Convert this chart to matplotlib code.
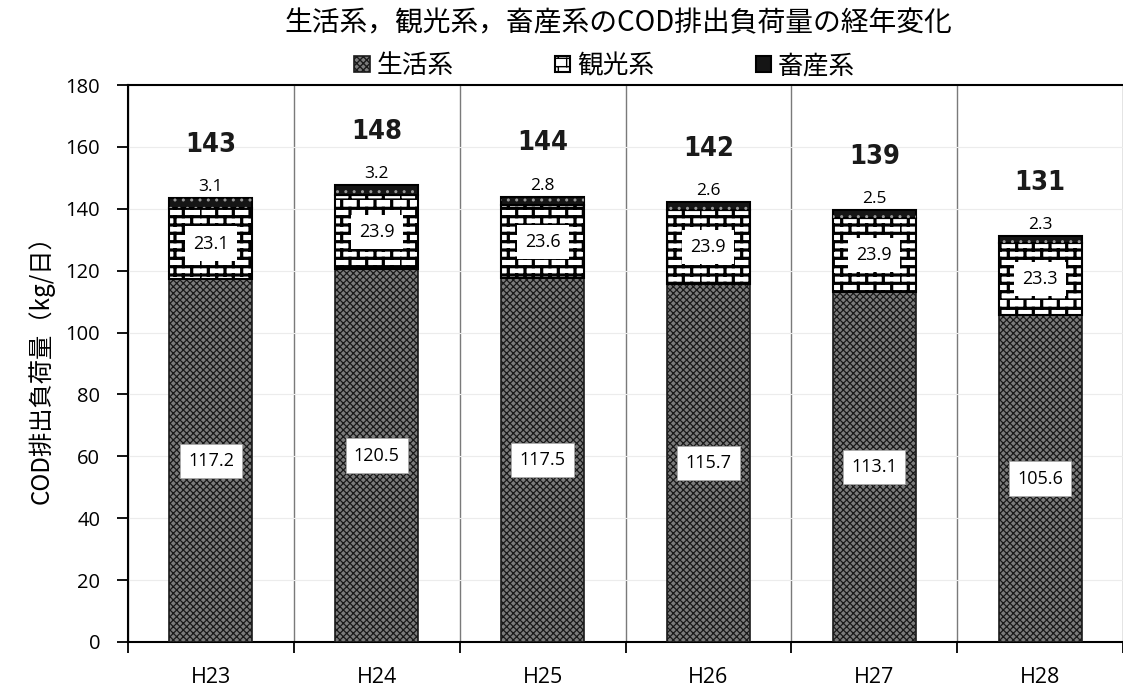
import warnings
import numpy as np
import matplotlib
matplotlib.use("Agg")
import matplotlib.pyplot as plt
import matplotlib.hatch as mhatch
from matplotlib import font_manager as fm
from matplotlib.path import Path

warnings.filterwarnings("ignore", message=".*hatch.*")

# ---- data -----------------------------------------------------------------
years = ["H23", "H24", "H25", "H26", "H27", "H28"]
domestic = [117.2, 120.5, 117.5, 115.7, 113.1, 105.6]   # 生活系
tourism = [23.1, 23.9, 23.6, 23.9, 23.9, 23.3]          # 観光系
livestock = [3.1, 3.2, 2.8, 2.6, 2.5, 2.3]              # 畜産系
totals = [143, 148, 144, 142, 139, 131]
series_names = ["生活系", "観光系", "畜産系"]
yticks = [0, 20, 40, 60, 80, 100, 120, 140, 160, 180]

title = "生活系，観光系，畜産系のCOD排出負荷量の経年変化"
ylabel = "COD排出負荷量（kg/日）"


# ---- brick hatch ('B') ----------------------------------------------------
class BrickHatch(mhatch.HatchPatternBase):
    def __init__(self, hatch, density):
        self.n = int(hatch.count("B") * density)
        n = self.n
        self.num_vertices = (4 * n + 4 * n * n) if n else 0

    def set_vertices_and_codes(self, vertices, codes):
        n = self.n
        s = 1.0 / n
        v = []
        for j in range(n):
            for y in (j * s, j * s + s / 2):
                v += [(0.0, y), (1.0, y)]
        for j in range(n):
            for i in range(n):
                x0 = i * s
                v += [(x0, j * s), (x0, j * s + s / 2)]
                v += [(x0 + s / 2, j * s + s / 2), (x0 + s / 2, (j + 1) * s)]
        vertices[:] = np.array(v)
        codes[0::2] = Path.MOVETO
        codes[1::2] = Path.LINETO


mhatch._hatch_types.append(BrickHatch)


# ---- fonts ----------------------------------------------------------------
def _weight(f):
    w = f.weight
    if isinstance(w, str):
        w = fm.weight_dict.get(w, 400)
    return w


def narrow_bold():
    fonts = fm.fontManager.ttflist
    for f in fonts:
        if f.name == "Liberation Sans Narrow" and _weight(f) >= 600:
            return fm.FontProperties(fname=f.fname)
    for fam in ("Noto Sans", "DejaVu Sans", "Roboto", "Open Sans"):
        for f in fonts:
            if (f.name.startswith(fam) and _weight(f) >= 600
                    and "condensed" in str(f.stretch)
                    and "semi" not in str(f.stretch)
                    and "extra" not in str(f.stretch)
                    and "Italic" not in f.fname):
                return fm.FontProperties(fname=f.fname)
    return fm.FontProperties(family="Lato", weight="bold")


plt.rcParams["font.family"] = ["Open Sans", "Noto Sans CJK JP", "DejaVu Sans"]
jp = ["Noto Sans CJK JP", "DejaVu Sans"]
total_font = narrow_bold()
total_font.set_size(19.5)

fig = plt.figure(figsize=(11.23, 6.94), dpi=100)
ax = fig.add_axes([0.114, 0.075, 0.886, 0.8025])

x = np.arange(len(years))
w = 0.5
dom = np.array(domestic)
tou = np.array(tourism)
liv = np.array(livestock)


def set_hlw(container, lw):
    for p in container:
        if hasattr(p, "set_hatch_linewidth"):
            p.set_hatch_linewidth(lw)


plt.rcParams["hatch.linewidth"] = 0.9
b1 = ax.bar(x, dom, w, color="#7c7c7c", edgecolor="#1a1a1a", hatch="xxxxx",
            linewidth=1.2, label=series_names[0], zorder=3)
set_hlw(b1, 0.9)

plt.rcParams["hatch.linewidth"] = 2.3
b2 = ax.bar(x, tou, w, bottom=dom, color="white", edgecolor="black",
            hatch="B", linewidth=1.5, label=series_names[1], zorder=3)
set_hlw(b2, 2.3)

plt.rcParams["hatch.linewidth"] = 1.0
b3 = ax.bar(x, liv, w, bottom=dom + tou, color="#151515", edgecolor="black",
            linewidth=1.5, label=series_names[2], zorder=3)
b3d = ax.bar(x, liv, w, bottom=dom + tou, fill=False, edgecolor="#9a9a9a",
             hatch="..", linewidth=0, zorder=3.5)
set_hlw(b3d, 1.0)

# ---- value labels ---------------------------------------------------------
for xi, d, t, l, tot in zip(x, dom, tou, liv, totals):
    ax.text(xi, d / 2, f"{d:.1f}", ha="center", va="center", fontsize=13,
            zorder=5, bbox=dict(boxstyle="square,pad=0.45", fc="white",
                                ec="#aaaaaa", lw=0.6))
    ax.text(xi, d + t / 2, f"{t:.1f}", ha="center", va="center", fontsize=13,
            zorder=5, bbox=dict(boxstyle="square,pad=0.45", fc="white",
                                ec="none"))
    ax.text(xi, d + t + l + 1.0, f"{l:.1f}", ha="center", va="bottom",
            fontsize=12.5, zorder=5)
    ax.text(xi, d + t + l + 13.0, f"{tot}", ha="center", va="bottom",
            fontproperties=total_font, color="#1a1a1a", zorder=5)

# ---- axes -----------------------------------------------------------------
ax.set_xlim(-0.5, len(years) - 0.5)
ax.set_ylim(0, 180)
ax.set_yticks(yticks)
ax.set_xticks(x)
ax.set_xticklabels(years, fontsize=15.5)
ax.set_xticks(np.arange(len(years) + 1) - 0.5, minor=True)
ax.tick_params(axis="x", which="major", length=0, pad=18)
ax.tick_params(axis="x", which="minor", length=8, width=1.3, direction="out")
ax.tick_params(axis="y", which="major", length=8, width=1.3, labelsize=14.5,
               pad=12)
ax.grid(axis="x", which="minor", color="#7a7a7a", lw=1.0, zorder=1)
ax.grid(axis="y", which="major", color="#ececec", lw=0.8, zorder=0)

for side in ("left", "bottom", "top"):
    ax.spines[side].set_linewidth(1.5)
    ax.spines[side].set_color("black")
ax.spines["right"].set_visible(False)

ax.set_ylabel(ylabel, family=jp, fontsize=17.5, labelpad=8)
fig.text(0.551, 0.966, title, ha="center", va="center", fontsize=20,
         family=jp)

leg = ax.legend(handles=[b1, b2, b3], labels=series_names, ncol=3,
                loc="center", bbox_to_anchor=(0.479, 1.034), frameon=False,
                prop={"family": jp, "size": 18.5}, handlelength=0.6,
                handleheight=0.6, handletextpad=0.25, columnspacing=3.95,
                borderaxespad=0, borderpad=0)

fig.savefig("out.png", dpi=100)
